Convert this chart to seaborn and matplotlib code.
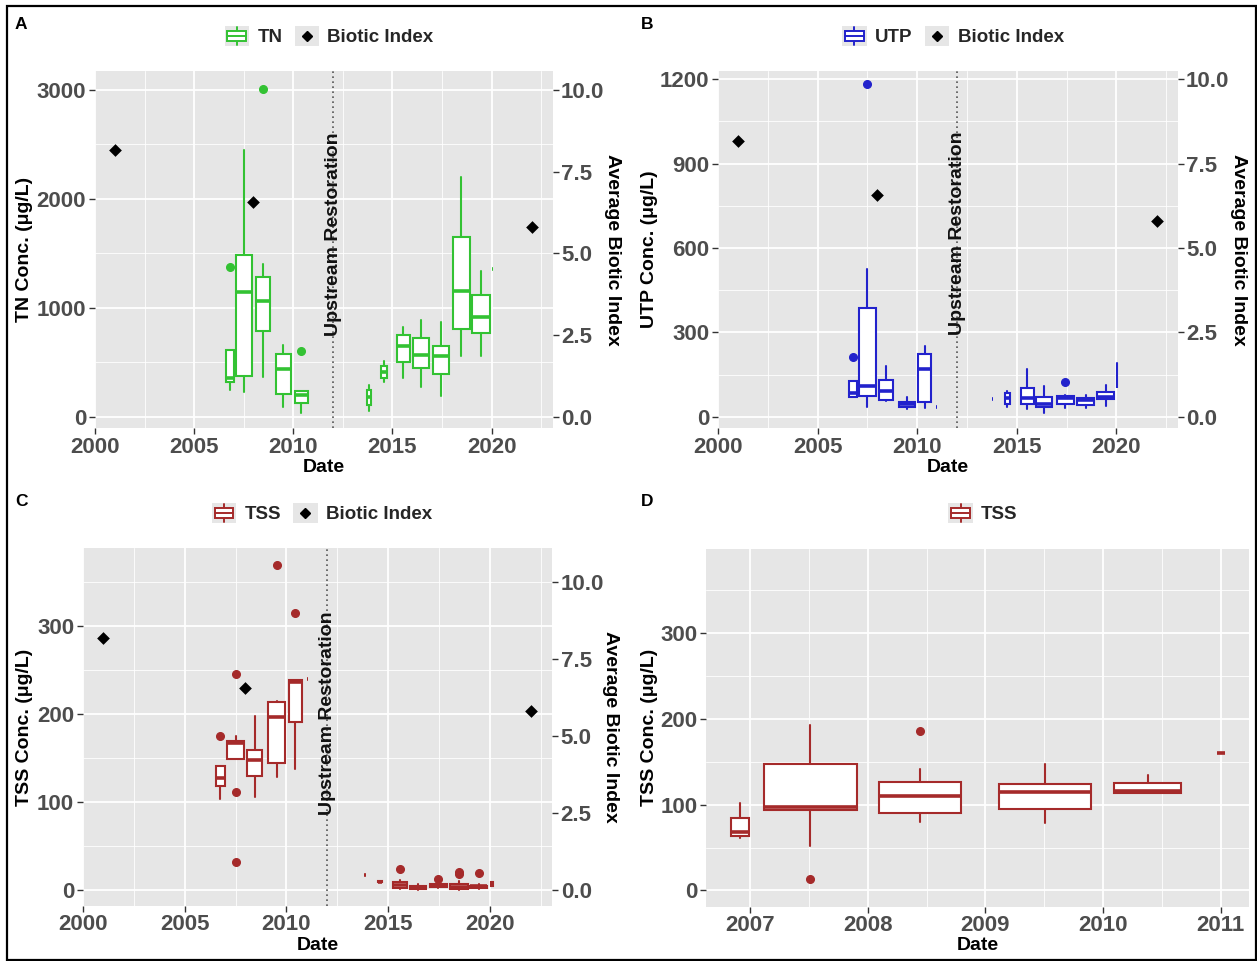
import numpy as np
import pandas as pd
import matplotlib
matplotlib.use("Agg")
import matplotlib.pyplot as plt
import seaborn as sns
from matplotlib.patches import Rectangle, Patch
from matplotlib.lines import Line2D
from matplotlib.legend_handler import HandlerBase
from matplotlib.ticker import MultipleLocator, FixedLocator, FormatStrFormatter

# ---- data (decimal years, concentrations in ug/L) ----
# biotic index survey dates and values (shared by panels A-C)
bi_year = [2001.0, 2007.97, 2022.02]
bi_value = [8.17, 6.57, 5.81]

# A: TN, one box per sampling year (centre date, span of sample dates)
tn_year = [2006.79, 2007.53, 2008.46, 2009.50, 2010.40, 2011.00, 2013.82,
           2014.58, 2015.55, 2016.44, 2017.47, 2018.46, 2019.46, 2020.06]
tn_span = [0.42, 0.80, 0.68, 0.80, 0.63, 0.03, 0.20, 0.27, 0.67, 0.77, 0.81, 0.85, 0.87, 0.06]
tn_lo = [242, 227, 364, 91, 39, 45, 52, 318, 355, 272, 190, 563, 557, 1360]
tn_q1 = [318, 373, 788, 212, 127, 45, 106, 358, 500, 450, 395, 808, 771, 1360]
tn_med = [355, 1142, 1067, 439, 197, 45, 182, 415, 651, 572, 563, 1154, 918, 1360]
tn_q3 = [615, 1485, 1288, 576, 233, 45, 242, 470, 748, 725, 649, 1653, 1114, 1360]
tn_hi = [615, 2445, 1403, 658, 233, 45, 288, 515, 827, 888, 869, 2201, 1338, 1360]
tn_out = [[1379], [], [3006], [], [606], [], [], [], [], [], [], [], [], []]

# B: UTP
utp_year = [2006.77, 2007.50, 2008.43, 2009.48, 2010.38, 2010.97, 2013.78,
            2014.53, 2015.53, 2016.37, 2017.43, 2018.45, 2019.47, 2020.03]
utp_span = [0.43, 0.83, 0.70, 0.80, 0.67, 0.03, 0.08, 0.23, 0.67, 0.78, 0.86, 0.88, 0.86, 0.04]
utp_lo = [71, 35, 55, 26, 30, 35, 64, 35, 28, 14, 30, 30, 38, 101]
utp_q1 = [71, 73, 59, 33, 53, 35, 64, 47, 47, 33, 45, 42, 63, 101]
utp_med = [85, 109, 92, 44, 168, 35, 64, 65, 65, 47, 65, 59, 71, 130]
utp_q3 = [127, 387, 130, 52, 224, 35, 64, 85, 104, 69, 74, 68, 89, 166]
utp_hi = [127, 525, 179, 71, 250, 35, 64, 92, 171, 109, 77, 77, 113, 190]
utp_out = [[212], [1181], [], [], [], [], [], [], [], [], [125], [], [], []]

# C: TSS
tss_year = [2006.75, 2007.50, 2008.44, 2009.52, 2010.43, 2011.04, 2013.88,
            2014.62, 2015.58, 2016.47, 2017.47, 2018.48, 2019.45, 2020.10]
tss_span = [0.44, 0.82, 0.72, 0.82, 0.66, 0.03, 0.10, 0.20, 0.65, 0.75, 0.81, 0.85, 0.81, 0.06]
tss_lo = [104, 149, 106, 128, 138, 240, 17.7, 9.0, 1.0, 0.5, 2.0, 0.5, 1.5, 4.5]
tss_q1 = [118, 149, 130, 144.5, 191, 240, 17.7, 9.0, 2.0, 1.5, 3.8, 0.8, 2.6, 4.5]
tss_med = [127, 167, 148, 197, 236, 240, 17.7, 9.8, 5.5, 3.0, 6.0, 3.8, 4.5, 6.8]
tss_q3 = [141, 169, 158.5, 213, 238.5, 240, 17.7, 10.5, 9.0, 4.5, 7.5, 7.0, 5.0, 9.0]
tss_hi = [141, 175, 198, 215, 238.5, 240, 17.7, 10.5, 12, 7.5, 10, 10, 7.5, 9.0]
tss_out = [[175], [245, 111, 32], [], [369], [314], [], [], [], [24.5], [], [13], [21, 18], [19.6], []]

# D: TSS 2007-2011
tssd_year = [2006.915, 2007.513, 2008.446, 2009.505, 2010.378, 2011.003]
tssd_span = [0.156, 0.788, 0.697, 0.782, 0.571, 0.068]
tssd_lo = [60.7, 52, 80, 78, 114, 160]
tssd_q1 = [63.4, 93.8, 90, 94.5, 114, 160]
tssd_med = [67.7, 96.9, 110.5, 115, 116, 160]
tssd_q3 = [84.8, 147.5, 126, 124, 125.7, 160]
tssd_hi = [102, 193, 141, 147.5, 134.6, 160]
tssd_out = [[], [12.8], [186], [], [], []]

restoration_year = 2012
bi_ticks = [0, 2.5, 5, 7.5, 10]

# ---- style ----
sns.set_theme(style="darkgrid", rc={"axes.facecolor": "#E6E6E6", "grid.color": "white",
                                    "axes.axisbelow": True})
plt.rcParams["font.family"] = ["Liberation Sans", "DejaVu Sans"]
plt.rcParams["font.weight"] = "bold"
plt.rcParams["axes.labelweight"] = "bold"

W, H = 1257, 961
fig = plt.figure(figsize=(W / 100, H / 100), dpi=100)
fig.patch.set_facecolor("white")


def px_rect(l, t, r, b):
    return [l / W, 1 - b / H, (r - l) / W, (b - t) / H]


def fxy(x, y):
    return (x / W, 1 - y / H)


class BoxKey(HandlerBase):
    def create_artists(self, legend, orig_handle, xd, yd, w, h, fontsize, trans):
        c = orig_handle.get_edgecolor()
        x0, y0 = -xd, -yd
        bg = Rectangle((x0, y0), w, h, facecolor="#E6E6E6", edgecolor="none", transform=trans)
        cx = x0 + w / 2
        wh = Line2D([cx, cx], [y0 + 0.05 * h, y0 + 0.95 * h], color=c, lw=1.4, transform=trans)
        bx = Rectangle((x0 + 0.12 * w, y0 + 0.25 * h), 0.76 * w, 0.5 * h, facecolor="white",
                       edgecolor=c, lw=1.4, transform=trans)
        md = Line2D([x0 + 0.12 * w, x0 + 0.88 * w], [y0 + h / 2] * 2, color=c, lw=1.4, transform=trans)
        return [bg, wh, bx, md]


class DiamondKey(HandlerBase):
    def create_artists(self, legend, orig_handle, xd, yd, w, h, fontsize, trans):
        x0, y0 = -xd, -yd
        bg = Rectangle((x0, y0), w, h, facecolor="#E6E6E6", edgecolor="none", transform=trans)
        d = Line2D([x0 + w / 2], [y0 + h / 2], marker="D", color="black", ms=5.5,
                   linestyle="", transform=trans)
        return [bg, d]


def draw_boxes(ax, year, span, lo, q1, med, q3, hi, out, color):
    stats = [dict(whislo=a, q1=b, med=c, q3=d, whishi=e, fliers=f)
             for a, b, c, d, e, f in zip(lo, q1, med, q3, hi, out)]
    ax.bxp(stats, positions=year, widths=span, patch_artist=True, showcaps=False,
           manage_ticks=False,
           boxprops=dict(facecolor="white", edgecolor=color, linewidth=1.5),
           medianprops=dict(color=color, linewidth=2.6),
           whiskerprops=dict(color=color, linewidth=1.5),
           flierprops=dict(marker="o", markerfacecolor=color, markeredgecolor=color,
                           markersize=5.5))


def style_axis(ax, xlim, ylim, xstep, ystep, ylabel, ylab_x, fmt_x="%d"):
    ax.set_xlim(xlim)
    ax.set_ylim(ylim)
    ax.xaxis.set_major_locator(MultipleLocator(xstep))
    ax.xaxis.set_minor_locator(MultipleLocator(xstep / 2))
    ax.yaxis.set_major_locator(MultipleLocator(ystep))
    ax.yaxis.set_minor_locator(MultipleLocator(ystep / 2))
    ax.xaxis.set_major_formatter(FormatStrFormatter(fmt_x))
    ax.yaxis.set_major_formatter(FormatStrFormatter("%d"))
    ax.grid(which="major", color="white", lw=1.3)
    ax.grid(which="minor", color="white", lw=0.6)
    ax.tick_params(which="minor", length=0)
    ax.tick_params(which="major", length=4, width=1.0, color="#333333", pad=2,
                   labelsize=16, labelcolor="#4D4D4D", bottom=True, left=True)
    for s in ax.spines.values():
        s.set_visible(False)
    ax.set_xlabel("Date", fontsize=14, color="black", va="center")
    ax.set_ylabel(ylabel, fontsize=14, color="black", va="center")
    pos = ax.get_position()
    ax.xaxis.set_label_coords(pos.x0 + pos.width / 2 + 0.0, pos.y0 - 39 / H, transform=fig.transFigure)
    ax.yaxis.set_label_coords(ylab_x / W, pos.y0 + pos.height / 2, transform=fig.transFigure)


def biotic_axis(ax, factor, rlab_x):
    ax2 = ax.twinx()
    lo, hi = ax.get_ylim()
    ax2.set_ylim(lo / factor, hi / factor)
    ax2.grid(False)
    ax2.yaxis.set_major_locator(FixedLocator(bi_ticks))
    ax2.yaxis.set_major_formatter(FormatStrFormatter("%.1f"))
    ax2.tick_params(which="major", length=4, width=1.0, color="#333333", pad=2,
                    labelsize=16, labelcolor="#4D4D4D", right=True)
    for s in ax2.spines.values():
        s.set_visible(False)
    sns.scatterplot(x=bi_year, y=bi_value, ax=ax2, marker="D", color="black", s=42,
                    edgecolor="black", linewidth=0, legend=False, zorder=5)
    ax2.set_ylabel("Average Biotic Index", fontsize=14, color="black", rotation=270, va="center")
    pos = ax.get_position()
    ax2.yaxis.set_label_coords(rlab_x / W, pos.y0 + pos.height / 2, transform=fig.transFigure)
    return ax2


def restoration(ax, ytext):
    ax.axvline(restoration_year, color="#555555", lw=1.2, ls=(0, (1, 2)), zorder=2)
    ax.text(restoration_year, ytext, "Upstream Restoration", rotation=90, ha="center",
            va="center", fontsize=14, color="#111111", zorder=3)


def add_legend(handles, cx, cy):
    fig.legend(handles=handles, loc="center", bbox_to_anchor=fxy(cx, cy), ncol=len(handles),
               frameon=False, handler_map={Patch: BoxKey(), Line2D: DiamondKey()},
               prop=dict(size=13.5, weight="bold"), handlelength=1.3, handleheight=1.3,
               handletextpad=0.45, columnspacing=0.65, borderaxespad=0)


colors = {"TN": "#33C233", "UTP": "#2222CC", "TSS": "#A52A2A"}
biotic_handle = Line2D([], [], marker="D", color="black", linestyle="", label="Biotic Index")

# ---- panel A ----
axA = fig.add_axes(px_rect(94.5, 70.7, 552.5, 428.3))
draw_boxes(axA, tn_year, tn_span, tn_lo, tn_q1, tn_med, tn_q3, tn_hi, tn_out, colors["TN"])
style_axis(axA, (1999.97, 2023.07), (-105, 3177), 5, 1000, "TN Conc. (\u03bcg/L)", 25)
restoration(axA, 1676)
biotic_axis(axA, 300, 612)
add_legend([Patch(facecolor="white", edgecolor=colors["TN"], label="TN"), biotic_handle], 329, 36)

# ---- panel B ----
axB = fig.add_axes(px_rect(717.5, 70.7, 1177.5, 428.3))
draw_boxes(axB, utp_year, utp_span, utp_lo, utp_q1, utp_med, utp_q3, utp_hi, utp_out, colors["UTP"])
style_axis(axB, (1999.97, 2023.07), (-41, 1230), 5, 300, "UTP Conc. (\u03bcg/L)", 650)
restoration(axB, 652)
biotic_axis(axB, 120, 1239)
add_legend([Patch(facecolor="white", edgecolor=colors["UTP"], label="UTP"), biotic_handle], 953, 36)

# ---- panel C ----
axC = fig.add_axes(px_rect(82.5, 548.3, 552.3, 906))
draw_boxes(axC, tss_year, tss_span, tss_lo, tss_q1, tss_med, tss_q3, tss_hi, tss_out, colors["TSS"])
style_axis(axC, (1999.97, 2023.07), (-18, 388), 5, 100, "TSS Conc. (\u03bcg/L)", 25)
restoration(axC, 201)
biotic_axis(axC, 35, 610)
add_legend([Patch(facecolor="white", edgecolor=colors["TSS"], label="TSS"), biotic_handle], 322, 513)

# ---- panel D ----
axD = fig.add_axes(px_rect(706, 549, 1249, 906.7))
draw_boxes(axD, tssd_year, tssd_span, tssd_lo, tssd_q1, tssd_med, tssd_q3, tssd_hi, tssd_out, colors["TSS"])
style_axis(axD, (2006.626, 2011.24), (-19, 398), 1, 100, "TSS Conc. (\u03bcg/L)", 650)
add_legend([Patch(facecolor="white", edgecolor=colors["TSS"], label="TSS")], 983, 513)

# panel letters
for letter, (x, y) in zip("ABCD", [(15, 17), (641, 17), (15, 494), (641, 494)]):
    fig.text(*fxy(x, y), letter, fontsize=12.5, fontweight="bold", color="black",
             ha="left", va="top")

# outer frame
fig.add_artist(Rectangle(fxy(7, 960), (1256 - 7) / W, (960 - 6) / H, transform=fig.transFigure,
                         fill=False, edgecolor="black", lw=1.6))

fig.savefig("out.png", dpi=100)
